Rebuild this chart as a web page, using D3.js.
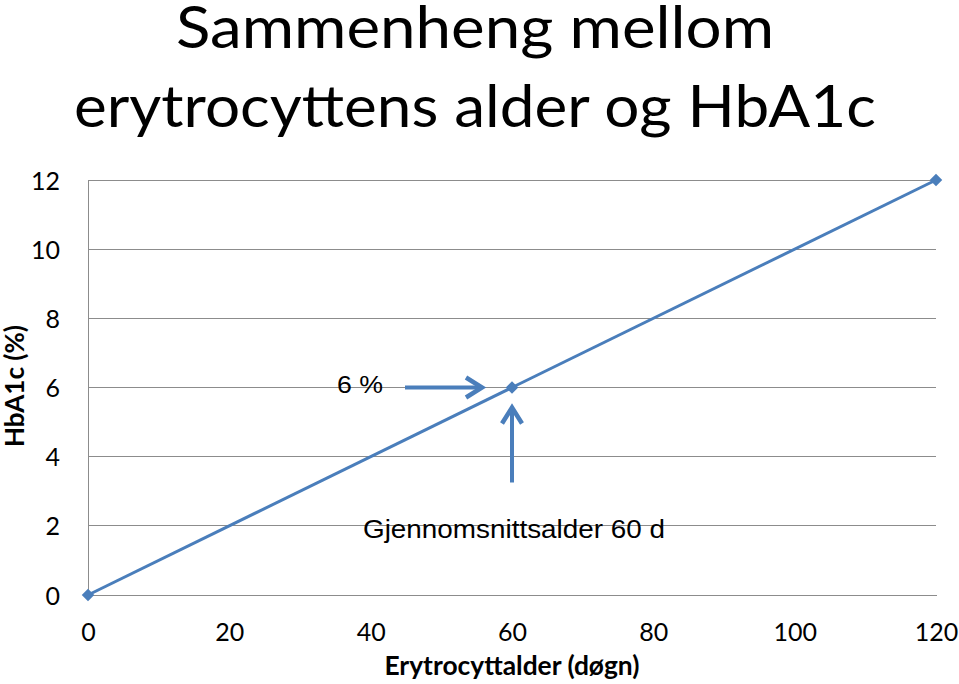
<!DOCTYPE html>
<html><head><meta charset="utf-8">
<script src="https://cdn.jsdelivr.net/npm/d3@7"></script>
<style>html,body{margin:0;padding:0;background:#fff;}svg{display:block;}</style>
</head><body>
<svg id="c" width="959" height="684"></svg>
<script>
const titleLines = ["Sammenheng mellom", "erytrocyttens alder og HbA1c"];
const xTicks = [0, 20, 40, 60, 80, 100, 120];
const yTicks = [0, 2, 4, 6, 8, 10, 12];
const ages = [0, 60, 120];
const hba1c = [0, 6, 12];
const xLabel = "Erytrocyttalder (døgn)";
const yLabel = "HbA1c (%)";
const annoPct = "6 %";
const annoAge = "Gjennomsnittsalder 60 d";
const markAge = 60, markVal = 6;

const svg = d3.select("#c");
const blue = "#4A7EBB";
const fontC = "Lato, 'Open Sans', sans-serif";
const fontA = "'Liberation Sans', Arial, sans-serif";
const x = d3.scaleLinear().domain([0, 120]).range([88, 936]);
const y = d3.scaleLinear().domain([0, 12]).range([595, 180]);

// title
const titleW = [598, 802];
const titleY = [48, 127];
titleLines.forEach((t, i) => {
  svg.append("text").attr("x", 475).attr("y", titleY[i]).attr("text-anchor", "middle")
    .attr("font-family", fontC).attr("font-size", 59).attr("fill", "#000")
    .attr("textLength", titleW[i]).attr("lengthAdjust", "spacingAndGlyphs").text(t);
});

// gridlines
svg.append("g").selectAll("line").data(yTicks.filter(d => d > 0)).join("line")
  .attr("x1", x(0)).attr("x2", x(120)).attr("y1", d => y(d)).attr("y2", d => y(d))
  .attr("stroke", "#8c8c8c").attr("stroke-width", 1).attr("shape-rendering", "crispEdges");

// axes
const ya = d3.axisLeft(y).tickValues(yTicks).tickSize(0).tickPadding(28);
const yg = svg.append("g").attr("transform", `translate(${x(0)},0)`).call(ya);
yg.select(".domain").attr("stroke", "#8c8c8c").attr("shape-rendering", "crispEdges");
yg.selectAll("text").attr("font-family", fontC).attr("font-size", 25).attr("fill", "#000").attr("dy", "0.36em");

const xa = d3.axisBottom(x).tickValues(xTicks).tickSize(0).tickPadding(28);
const xg = svg.append("g").attr("transform", `translate(0,${y(0)})`).call(xa);
xg.select(".domain").attr("stroke", "#8c8c8c").attr("shape-rendering", "crispEdges");
xg.selectAll("text").attr("font-family", fontC).attr("font-size", 25).attr("fill", "#000").attr("dy", "0.71em");

// axis titles
svg.append("text").attr("x", 512).attr("y", 675).attr("text-anchor", "middle")
  .attr("font-family", fontC).attr("font-weight", "bold").attr("font-size", 26)
  .attr("textLength", 255).attr("lengthAdjust", "spacingAndGlyphs").text(xLabel);
svg.append("text").attr("transform", `translate(24,386) rotate(-90)`).attr("text-anchor", "middle")
  .attr("font-family", fontC).attr("font-weight", "bold").attr("font-size", 26)
  .attr("textLength", 122).attr("lengthAdjust", "spacingAndGlyphs").text(yLabel);

// line
const pts = ages.map((a, i) => [a, hba1c[i]]);
svg.append("path").datum(pts)
  .attr("d", d3.line().x(d => x(d[0])).y(d => y(d[1])))
  .attr("fill", "none").attr("stroke", blue).attr("stroke-width", 3);
svg.append("g").selectAll("path").data(pts).join("path")
  .attr("transform", d => `translate(${x(d[0])},${y(d[1])})`)
  .attr("d", d3.symbol(d3.symbolDiamond2 || d3.symbolDiamond, 100)())
  .attr("fill", blue);

// arrows
const mx = x(markAge), my = y(markVal);
const hx1 = mx - 107, hx2 = mx - 30;
svg.append("line").attr("x1", hx1).attr("x2", hx2 - 2).attr("y1", my).attr("y2", my)
  .attr("stroke", blue).attr("stroke-width", 4);
svg.append("path").attr("d", `M${hx2-16},${my-10}L${hx2},${my}L${hx2-16},${my+10}`)
  .attr("fill", "none").attr("stroke", blue).attr("stroke-width", 4.5).attr("stroke-linejoin", "miter");
const vy1 = my + 95, vy2 = my + 20;
svg.append("line").attr("x1", mx).attr("x2", mx).attr("y1", vy1).attr("y2", vy2 + 2)
  .attr("stroke", blue).attr("stroke-width", 4);
svg.append("path").attr("d", `M${mx-10},${vy2+16}L${mx},${vy2}L${mx+10},${vy2+16}`)
  .attr("fill", "none").attr("stroke", blue).attr("stroke-width", 4.5).attr("stroke-linejoin", "miter");

// annotations
svg.append("text").attr("x", 337).attr("y", 393).attr("font-family", fontA)
  .attr("font-size", 24).attr("fill", "#000")
  .attr("textLength", 46).attr("lengthAdjust", "spacingAndGlyphs").text(annoPct);
svg.append("text").attr("x", 363).attr("y", 538).attr("font-family", fontA)
  .attr("font-size", 25).attr("fill", "#000")
  .attr("textLength", 302).attr("lengthAdjust", "spacingAndGlyphs").text(annoAge);
</script>
</body></html>
